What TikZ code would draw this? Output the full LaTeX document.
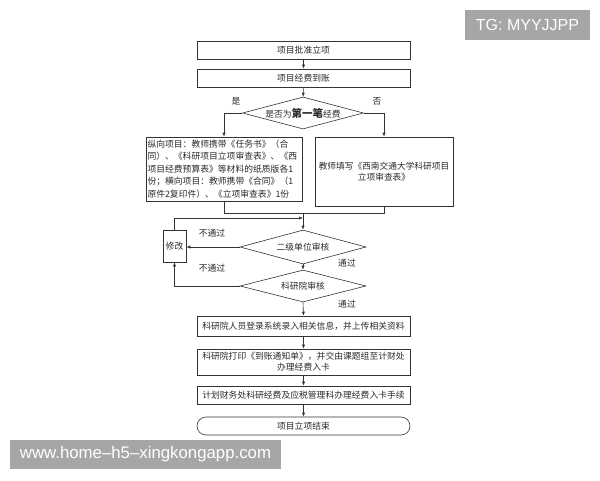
\documentclass[tikz,border=0pt]{standalone}
\usepackage{fontspec}
\setmainfont{Liberation Sans}
\newfontfamily\cjk{Noto Sans CJK SC}
\usetikzlibrary{shapes.geometric,arrows.meta,calc}
\definecolor{linec}{HTML}{333333}
\definecolor{textc}{HTML}{2A2A2A}
\definecolor{wmgray}{HTML}{A6A6A6}
\tikzset{
  box/.style={draw=linec, line width=0.6pt, rectangle, inner sep=0pt, minimum width=213pt, minimum height=18pt, font=\cjk\fontsize{8.8}{12.5}\selectfont, text=textc, align=center},
  dia/.style={draw=linec, line width=0.6pt, diamond, aspect=4, inner sep=0pt, font=\cjk\fontsize{8.8}{10}\selectfont, text=textc},
  conn/.style={draw=linec, line width=0.6pt},
  arr/.style={conn, -{Latex[length=4pt,width=3.2pt]}},
  lbl/.style={font=\cjk\fontsize{8.8}{10}\selectfont, text=textc, inner sep=0pt},
  wm/.style={fill=wmgray, text=white, inner sep=0pt}
}
\begin{document}
\begin{tikzpicture}[x=1pt,y=-1pt]
\useasboundingbox (0,0) rectangle (600,480);
% watermarks
\node[wm, minimum width=125pt, minimum height=30pt, font=\fontsize{16}{18}\selectfont] (tg) at (527.5,25) {TG: MYYJJPP};
\node[wm, minimum width=271pt, minimum height=29pt, font=\fontsize{16.8}{18}\selectfont] (www) at (145.5,454.5) {www.home–h5–xingkongapp.com};
% main boxes
\node[box] (b1) at (303.5,50.5) {项目批准立项};
\node[box] (b2) at (303.5,78) {项目经费到账};
\node[dia, minimum width=121pt, minimum height=32pt] (d1) at (303,113) {是否为{\fontsize{10.5}{10}\selectfont\bfseries 第一笔}经费};
\node[box, minimum width=156pt, minimum height=64pt, align=left, text width=153pt, font=\cjk\fontsize{8.8}{12.6}\selectfont] (lb) at (224,169) {纵向项目：教师携带《任务书》（合\\同）、《科研项目立项审查表》、《西\\项目经费预算表》等材料的纸质版各1\\份；横向项目：教师携带《合同》（1\\原件2复印件）、《立项审查表》1份};
\node[box, minimum width=138pt, minimum height=69pt, font=\cjk\fontsize{8.7}{11.5}\selectfont] (rb) at (384,171.5) {教师填写《西南交通大学科研项目\\立项审查表》};
\node[box, minimum width=23pt, minimum height=32pt] (fix) at (174.5,246) {修改};
\node[dia, minimum width=126pt, minimum height=34pt] (d2) at (303,247) {二级单位审核};
\node[dia, minimum width=126pt, minimum height=32pt] (d3) at (303,286) {科研院审核};
\node[box, minimum height=20pt] (b4) at (303.5,326) {科研院人员登录系统录入相关信息，并上传相关资料};
\node[box, minimum height=26pt, font=\cjk\fontsize{8.8}{11}\selectfont] (b5) at (303.5,362) {科研院打印《到账通知单》，并交由课题组至计财处\\办理经费入卡};
\node[box] (b6) at (303.5,395) {计划财务处科研经费及应税管理科办理经费入卡手续};
\node[box, rounded corners=9pt] (end) at (303.5,426) {项目立项结束};
% labels
\node[lbl] (yes) at (236,101) {是};
\node[lbl] (no) at (377,101) {否};
\node[lbl] (np1) at (212,233) {不通过};
\node[lbl] (np2) at (212,268) {不通过};
\node[lbl] (p1) at (347,263) {通过};
\node[lbl] (p2) at (347,304) {通过};
% coordinates
\coordinate (m) at (303,213);
\coordinate (j) at (303,218);
% connectors
\draw[arr] (b1) -- (b2);
\draw[arr] (b2) -- (d1);
\draw[arr] (d1.west) -| (lb.north);
\draw[arr] (d1.east) -| (rb.north);
\draw[conn] (lb.south) |- (m);
\draw[conn] (rb.south) |- (m);
\draw[arr] (m) -- (d2.north);
\draw[arr] (fix.north) |- (j);
\draw[arr] (d2.west) -- (d2.west -| fix.east);
\draw[arr] (d3.west) -| (fix.south);
\draw[arr] (d2.south) -- (d3.north);
\draw[arr] (d3.south) -- (b4.north);
\draw[arr] (b4) -- (b5);
\draw[arr] (b5) -- (b6);
\draw[arr] (b6) -- (end);
\end{tikzpicture}
\end{document}
